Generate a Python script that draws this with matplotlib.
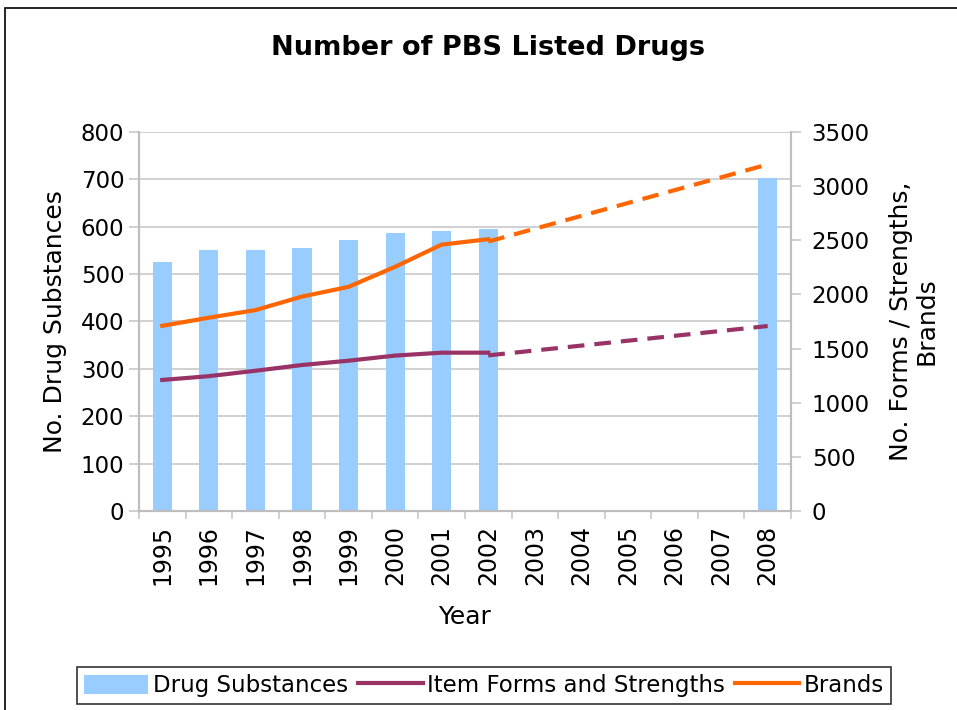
import numpy as np
import matplotlib
matplotlib.use("Agg")
import matplotlib.pyplot as plt
from matplotlib.patches import Rectangle, Patch
from matplotlib.lines import Line2D

# DATA
years = ["1995", "1996", "1997", "1998", "1999", "2000", "2001",
         "2002", "2003", "2004", "2005", "2006", "2007", "2008"]
substances = [525, 551, 550, 555, 572, 587, 591, 595,
              np.nan, np.nan, np.nan, np.nan, np.nan, 703]
item_forms = [1210, 1245, 1295, 1348, 1388, 1435, 1462, 1462]
brands = [1710, 1785, 1855, 1980, 2070, 2255, 2460, 2510]
proj_years = ["2002", "2008"]
item_forms_proj = [1437, 1708]
brands_proj = [2488, 3200]

sub_col = "#99CCFF"
item_col = "#993366"
brand_col = "#FF6600"
grid_col = "#C8C8C8"

plt.rcParams["font.family"] = "DejaVu Sans"

fig = plt.figure(figsize=(9.57, 7.1), dpi=100)
ax = fig.add_axes([0.1452, 0.2803, 0.6813, 0.5338])
ax2 = ax.twinx()

x = np.arange(len(years))
ax.bar(x, substances, width=0.41, color=sub_col, zorder=2)

ax.set_xlim(-0.5, len(years) - 0.5)
ax.set_ylim(0, 800)
ax.set_yticks(range(0, 801, 100))
ax.yaxis.grid(True, color=grid_col, linewidth=1.2)
ax.set_axisbelow(True)

ax.set_xticks(x)
ax.set_xticklabels(years, rotation=90, fontsize=17)
ax.set_xticks(np.arange(-0.5, len(years)), minor=True)
ax.tick_params(axis="x", which="major", length=0, pad=10)
ax.tick_params(axis="x", which="minor", length=6, color=grid_col, width=1.2)
ax.tick_params(axis="y", labelsize=16.5, length=7, color=grid_col, width=1.2)

ax.set_xlabel("Year", fontsize=18, labelpad=14)
ax.set_ylabel("No. Drug Substances", fontsize=18, labelpad=10)

# lines on the secondary axis
xi = [years.index(y) for y in years[:len(item_forms)]]
xp = [years.index(y) for y in proj_years]
ax2.plot(xi, item_forms, color=item_col, linewidth=3)
ax2.plot(xi, brands, color=brand_col, linewidth=3)
ax2.plot(xp, item_forms_proj, color=item_col, linewidth=3, dashes=(4, 2.4))
ax2.plot(xp, brands_proj, color=brand_col, linewidth=3, dashes=(4, 2.4))

ax2.set_ylim(0, 3500)
ax2.set_yticks(range(0, 3501, 500))
ax2.tick_params(axis="y", labelsize=16.5, length=7, color=grid_col, width=1.2,
                pad=8)
ax2.set_ylabel("No. Forms / Strengths,\nBrands", fontsize=18, labelpad=14,
               linespacing=1.05)

for a in (ax, ax2):
    for s in a.spines.values():
        s.set_color("#BEBEBE")
        s.set_linewidth(1.5)
    a.spines["top"].set_visible(False)

fig.text(0.51, 1 - 48 / 710, "Number of PBS Listed Drugs", fontsize=19.5,
         fontweight="bold", ha="center", va="center")

handles = [Patch(facecolor=sub_col, edgecolor="none"),
           Line2D([], [], color=item_col, linewidth=3),
           Line2D([], [], color=brand_col, linewidth=3)]
labels = ["Drug Substances", "Item Forms and Strengths", "Brands"]
leg = fig.legend(handles, labels, loc="center", bbox_to_anchor=(0.506, 0.0345),
                 ncol=3, fontsize=16.5, frameon=True, fancybox=False,
                 handlelength=2.8, handletextpad=0.2, columnspacing=0.45,
                 borderpad=0.3, handleheight=0.9)
leg.get_frame().set_edgecolor("black")
leg.get_frame().set_linewidth(1.2)

# outer chart border
fig.patches.append(Rectangle((5 / 957, -0.1), 2, 1 - 8 / 710 + 0.1,
                             transform=fig.transFigure, fill=False,
                             edgecolor="black", linewidth=1.2, clip_on=False))

fig.savefig("out.png", dpi=100)
